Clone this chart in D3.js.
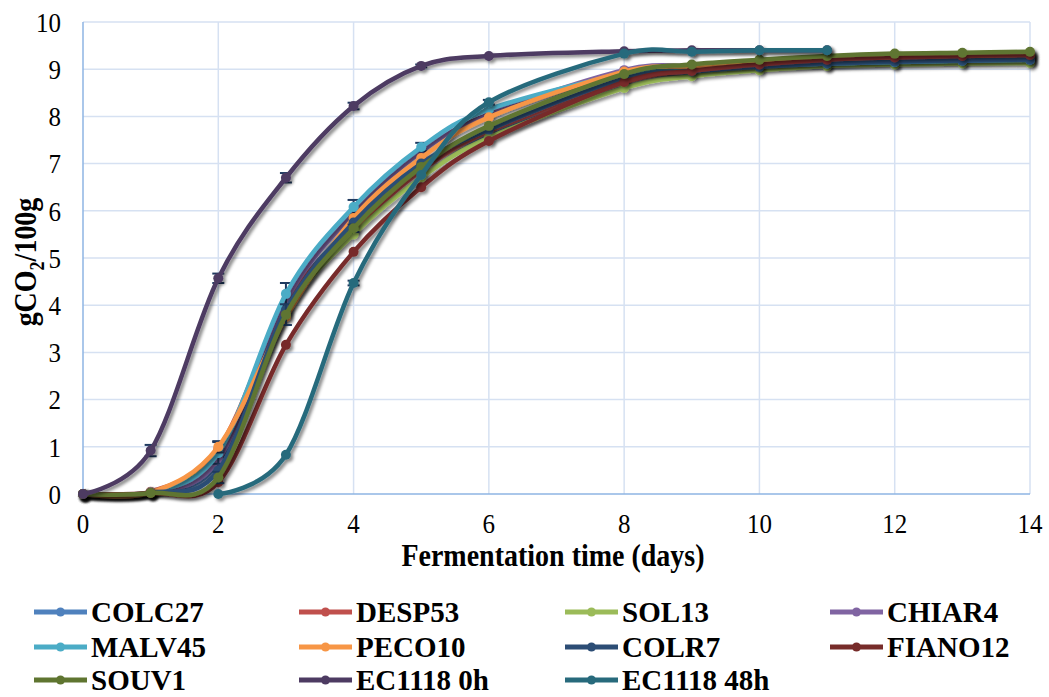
<!DOCTYPE html>
<html><head><meta charset="utf-8">
<script src="https://cdn.jsdelivr.net/npm/d3@7"></script>
<style>body{margin:0;background:#fff}svg{display:block}text{font-family:"Liberation Serif","Times New Roman",serif}</style>
</head><body><svg id="c" width="1049" height="697"></svg>
<script>
const days = [0,1,2,3,4,5,6,8,9,10,11,12,13,14];
const daysEC0 = [0,1,2,3,4,5,6,8,9,10,11];
const daysEC48 = [2,3,4,5,6,8,9,10,11];
const xTicks = [0,2,4,6,8,10,12,14];
const yTicks = [0,1,2,3,4,5,6,7,8,9,10];

const COLC27  = [0,0.03,0.65,4.00,5.70,7.00,7.62,8.78,8.95,9.05,9.10,9.15,9.18,9.20];
const DESP53  = [0,0.05,0.95,4.05,5.60,6.85,7.68,8.72,8.98,9.10,9.20,9.25,9.28,9.30];
const SOL13   = [0,0.03,0.85,3.85,5.50,6.70,7.55,8.60,8.85,8.98,9.07,9.10,9.12,9.13];
const CHIAR4  = [0,0.03,0.72,4.10,5.95,7.25,8.05,8.98,9.08,9.15,9.20,9.25,9.28,9.30];
const MALV45  = [0,0.03,0.87,4.24,6.08,7.35,8.15,8.90,9.02,9.08,9.12,9.15,9.18,9.20];
const PECO10  = [0,0.03,1.00,3.75,5.85,7.12,7.98,8.95,9.06,9.15,9.22,9.26,9.29,9.31];
const COLR7   = [0,0.03,0.50,3.90,5.75,7.00,7.72,8.80,8.95,9.05,9.12,9.16,9.18,9.20];
const FIANO12 = [0,0.02,0.25,3.16,5.13,6.50,7.48,8.73,8.96,9.10,9.20,9.25,9.28,9.30];
const SOUV1   = [0,0.02,0.35,3.80,5.63,6.93,7.80,8.90,9.10,9.20,9.28,9.33,9.35,9.37];
const EC1118_0h  = [0,0.92,4.57,6.70,8.22,9.07,9.28,9.38,9.40,9.40,9.40];
const EC1118_48h = [0,0.83,4.47,6.76,8.30,9.33,9.37,9.40,9.40];

const errNone = [0,0,0,0,0,0,0,0,0,0,0,0,0,0];
const errPECO10 = [0,0,0.12,0,0,0,0,0,0,0,0,0,0,0];
const errMALV45 = [0,0,0.23,0.23,0.15,0.09,0,0,0,0,0,0,0,0];
const errSOUV1 = [0,0,0.12,0.22,0.08,0,0,0,0,0,0,0,0,0];
const errEC0 = [0,0.12,0.10,0.10,0.07,0.03,0,0,0,0,0];
const errEC48 = [0,0,0.05,0,0.05,0,0,0,0];

const names = ["COLC27","DESP53","SOL13","CHIAR4","MALV45","PECO10","COLR7","FIANO12","SOUV1","EC1118 0h","EC1118 48h"];
const colors = ["#4F81BD","#C0504D","#9BBB59","#8064A2","#4BACC6","#F79646","#2C4D75","#772C2A","#5F7530","#4D3B62","#276A7C"];
const seriesX = [days,days,days,days,days,days,days,days,days,daysEC0,daysEC48];
const seriesY = [COLC27,DESP53,SOL13,CHIAR4,MALV45,PECO10,COLR7,FIANO12,SOUV1,EC1118_0h,EC1118_48h];
const seriesE = [errNone,errNone,errNone,errNone,errMALV45,errPECO10,errNone,errNone,errSOUV1,errEC0,errEC48];

const svg = d3.select("#c");
const x = d3.scaleLinear().domain([0,14]).range([83,1030]);
const y = d3.scaleLinear().domain([0,10]).range([494,22]);

const defs = svg.append("defs");
const f = defs.append("filter").attr("id","sh").attr("x","-10%").attr("y","-10%").attr("width","130%").attr("height","130%");
f.append("feDropShadow").attr("dx",2.5).attr("dy",2.5).attr("stdDeviation",1.8).attr("flood-color","#000").attr("flood-opacity",0.45);

// grid
const g = svg.append("g");
g.selectAll(".hg").data(yTicks.slice(1)).join("line")
  .attr("x1",x(0)).attr("x2",x(14)).attr("y1",d=>y(d)).attr("y2",d=>y(d))
  .attr("stroke","#d6e1f2").attr("stroke-width",1.5);
g.selectAll(".vg").data(xTicks.slice(1)).join("line")
  .attr("y1",y(0)).attr("y2",y(10)).attr("x1",d=>x(d)).attr("x2",d=>x(d))
  .attr("stroke","#d6e1f2").attr("stroke-width",1.5);
g.append("line").attr("x1",x(0)).attr("x2",x(0)).attr("y1",y(0)).attr("y2",y(10)).attr("stroke","#8eb4e3").attr("stroke-width",1.5);
g.append("line").attr("x1",x(0)).attr("x2",x(14)).attr("y1",y(0)).attr("y2",y(0)).attr("stroke","#8eb4e3").attr("stroke-width",1.5);

// tick labels
svg.append("g").selectAll("text").data(yTicks).join("text")
  .attr("transform",d=>`translate(61,${y(d)}) scale(1,1.12)`).attr("dy","0.35em").attr("text-anchor","end")
  .attr("font-size",25).text(d=>d);
svg.append("g").selectAll("text").data(xTicks).join("text")
  .attr("transform",d=>`translate(${x(d)},523) scale(1,1.12)`).attr("dy","0.35em").attr("text-anchor","middle")
  .attr("font-size",25).text(d=>d);

// axis titles
svg.append("text").attr("transform","translate(553,566) scale(1,1.12)").attr("text-anchor","middle")
  .attr("font-size",28).attr("font-weight","bold").text("Fermentation time (days)");
const yt = svg.append("text").attr("transform","translate(36,262) rotate(-90) scale(1,1.12)")
  .attr("text-anchor","middle").attr("font-size",28).attr("font-weight","bold");
yt.append("tspan").text("gCO");
yt.append("tspan").attr("font-size",18).attr("dy",7).text("2");
yt.append("tspan").attr("dy",-7).text("/100g");

// series
const line = d3.line().curve(d3.curveCardinal.tension(0)).x(d=>x(d[0])).y(d=>y(d[1]));
const sg = svg.append("g");
seriesY.forEach((vals,i)=>{
  const pts = vals.map((v,j)=>[seriesX[i][j],v]);
  const eg = sg.append("g").attr("stroke","#1f3a60").attr("stroke-width",2);
  vals.forEach((v,j)=>{
    const e = seriesE[i][j]; if(!e) return;
    const cx = x(seriesX[i][j]);
    eg.append("line").attr("x1",cx).attr("x2",cx).attr("y1",y(v-e)).attr("y2",y(v+e));
    eg.append("line").attr("x1",cx-6).attr("x2",cx+6).attr("y1",y(v+e)).attr("y2",y(v+e));
    eg.append("line").attr("x1",cx-6).attr("x2",cx+6).attr("y1",y(v-e)).attr("y2",y(v-e));
  });
  const s = sg.append("g").attr("filter","url(#sh)");
  s.append("path").attr("d",line(pts)).attr("fill","none").attr("stroke",colors[i]).attr("stroke-width",4.5).attr("stroke-linejoin","round");
  s.selectAll("circle").data(pts).join("circle").attr("cx",d=>x(d[0])).attr("cy",d=>y(d[1])).attr("r",5).attr("fill",colors[i]);
});

// legend
const colX = [34,299,565,830];
const rowY = [612,647,680];
const lg = svg.append("g");
names.forEach((n,i)=>{
  const cx = colX[i%4], cy = rowY[Math.floor(i/4)];
  lg.append("line").attr("x1",cx).attr("x2",cx+53).attr("y1",cy).attr("y2",cy).attr("stroke",colors[i]).attr("stroke-width",5);
  lg.append("circle").attr("cx",cx+26.5).attr("cy",cy).attr("r",4.5).attr("fill",colors[i]);
  lg.append("text").attr("x",cx+57).attr("y",cy).attr("dy","0.36em").attr("font-size",29).attr("font-weight","bold").text(n);
});
</script></body></html>
